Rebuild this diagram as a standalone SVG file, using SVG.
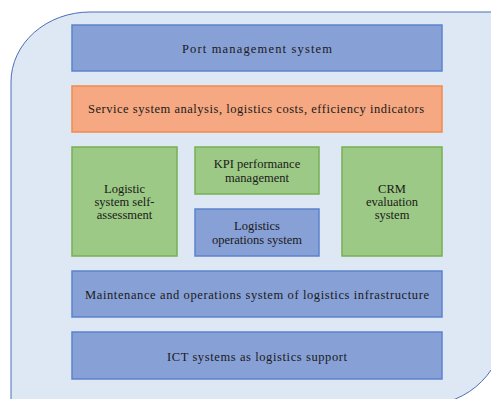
<svg xmlns="http://www.w3.org/2000/svg" width="491" height="399" viewBox="0 0 491 399">
<style>
.bg{fill:#DEE8F5;stroke:#4A6FB5;stroke-width:1}
.blue{fill:#87A0D6;stroke:#5B82CC;stroke-width:1.5}
.orange{fill:#F5A882;stroke:#F08A4B;stroke-width:1.5}
.green{fill:#9CC985;stroke:#76B052;stroke-width:1.5}
text{font-family:'Liberation Serif','Times New Roman',serif;font-size:12.5px;fill:#1a1a1a;text-anchor:middle}
</style>
<rect width="491" height="399" fill="#ffffff"/>
<path class="bg" d="M11,82 A79 70 0 0 1 90,12 L505,12 L505,325 A80 80 0 0 1 425,405 L11,405 Z"/>
<g id="port"><rect class="blue" x="72" y="25" width="370" height="46"/><text x="257" y="53" textLength="150">Port management  system</text></g>
<g id="service"><rect class="orange" x="72" y="86" width="370" height="46"/><text x="256" y="113" textLength="336">Service system analysis, logistics costs, efficiency indicators</text></g>
<g id="selfassess"><rect class="green" x="72" y="147" width="105" height="109"/><text x="124.5" y="193">Logistic</text><text x="124.5" y="206">system self-</text><text x="124.5" y="219">assessment</text></g>
<g id="kpi"><rect class="green" x="195" y="147" width="124" height="47"/><text x="257" y="168">KPI performance</text><text x="257" y="181.5">management</text></g>
<g id="logops"><rect class="blue" x="195" y="209" width="124" height="47"/><text x="257" y="230">Logistics</text><text x="257" y="244">operations  system</text></g>
<g id="crm"><rect class="green" x="342" y="147" width="100" height="109"/><text x="392" y="193">CRM</text><text x="392" y="206">evaluation</text><text x="392" y="219">system</text></g>
<g id="maint"><rect class="blue" x="72" y="271" width="370" height="46"/><text x="257" y="299" textLength="344">Maintenance and operations  system of logistics  infrastructure</text></g>
<g id="ict"><rect class="blue" x="72" y="332" width="370" height="47"/><text x="257" y="361" textLength="180">ICT systems as logistics  support</text></g>
<g id="connectors"></g>
</svg>
